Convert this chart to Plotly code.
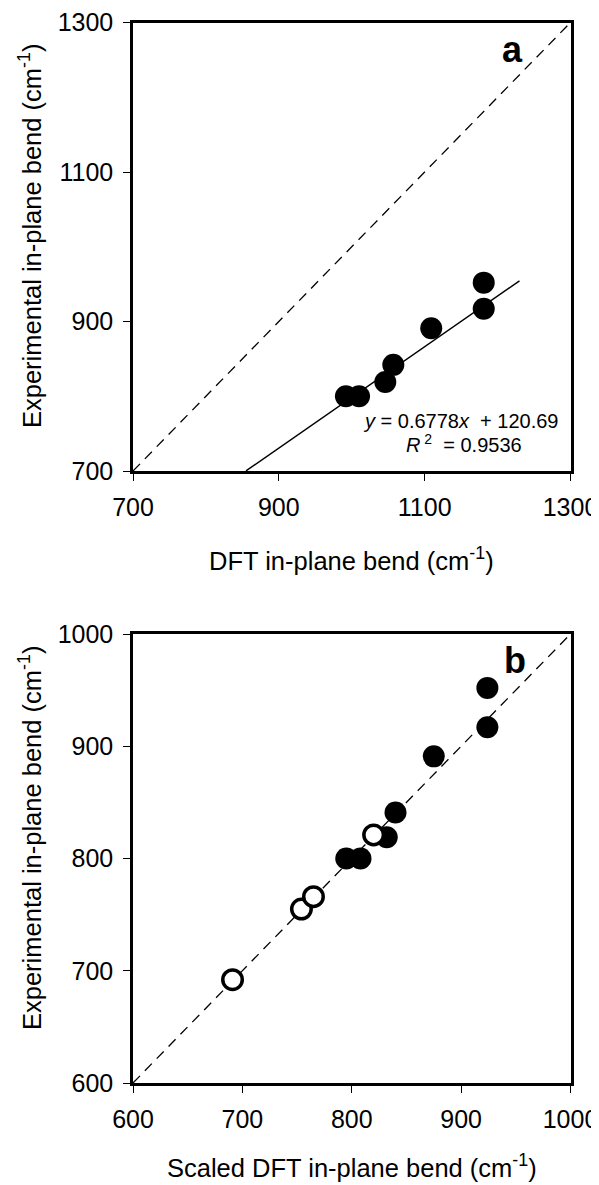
import plotly.graph_objects as go

# ---- data ----
a_dft = [992, 1010, 1046, 1057, 1109, 1181, 1181]
a_exp = [800, 800, 819, 842, 891, 917, 952]

fit_slope = 0.6778
fit_intercept = 120.69
fit_x_ends = [855, 1230]

b_scaled_filled = [795, 808, 832, 840, 875, 924, 924]
b_exp_filled = [800, 800, 819, 841, 891, 917, 952]
b_scaled_open = [691, 754, 765, 820]
b_exp_open = [692, 755, 766, 821]

a_range = [700, 1300]
a_ticks = [700, 900, 1100, 1300]
b_range = [600, 1000]
b_ticks = [600, 700, 800, 900, 1000]

# page has an 8px body margin: the figure is drawn from (8, 8)
OFF = 8
W, H = 599 - OFF, 1185 - OFF
FONT = "Liberation Sans, Arial, Helvetica, sans-serif"


def px(xpage):
    return (xpage - OFF) / W


def py(ypage):
    return 1 - (ypage - OFF) / H


fig = go.Figure()

# Panel a
fig.add_trace(go.Scatter(x=a_range, y=a_range, mode="lines",
                         line=dict(color="black", width=1.3, dash="10px,7px"),
                         xaxis="x", yaxis="y", showlegend=False, hoverinfo="skip"))
fit_y = [fit_slope * v + fit_intercept for v in fit_x_ends]
fig.add_trace(go.Scatter(x=fit_x_ends, y=fit_y, mode="lines",
                         line=dict(color="black", width=1.5),
                         xaxis="x", yaxis="y", showlegend=False))
fig.add_trace(go.Scatter(x=a_dft, y=a_exp, mode="markers",
                         marker=dict(size=22, color="black", line=dict(width=0)),
                         xaxis="x", yaxis="y", showlegend=False))

# Panel b
fig.add_trace(go.Scatter(x=b_range, y=b_range, mode="lines",
                         line=dict(color="black", width=1.3, dash="10px,7px"),
                         xaxis="x2", yaxis="y2", showlegend=False, hoverinfo="skip"))
fig.add_trace(go.Scatter(x=b_scaled_filled, y=b_exp_filled, mode="markers",
                         marker=dict(size=22, color="black", line=dict(width=0)),
                         xaxis="x2", yaxis="y2", showlegend=False))
fig.add_trace(go.Scatter(x=b_scaled_open, y=b_exp_open, mode="markers",
                         marker=dict(size=19.5, color="white",
                                     line=dict(width=3.5, color="black")),
                         xaxis="x2", yaxis="y2", showlegend=False))

axis_common = dict(showgrid=False, zeroline=False, showline=True, linecolor="black",
                   linewidth=2.5, mirror=True, ticks="outside", ticklen=7,
                   tickwidth=1.3, tickcolor="black", automargin=False,
                   ticklabeloverflow="allow",
                   tickfont=dict(family=FONT, size=25, color="black"))

xdom = [px(133), px(570.5)]
fig.update_layout(
    width=W, height=H,
    margin=dict(l=0, r=0, t=0, b=0),
    paper_bgcolor="white", plot_bgcolor="white",
    font=dict(family=FONT, color="black"),
    xaxis=dict(domain=xdom, range=a_range, tickvals=a_ticks, anchor="y",
               ticklabelstandoff=5, **axis_common),
    yaxis=dict(domain=[py(471), py(22.5)], range=a_range, tickvals=a_ticks,
               anchor="x", ticklabelstandoff=5, **axis_common),
    xaxis2=dict(domain=xdom, range=b_range, tickvals=b_ticks, anchor="y2",
                ticklabelstandoff=5, **axis_common),
    yaxis2=dict(domain=[py(1083), py(634)], range=b_range, tickvals=b_ticks,
                anchor="x2", ticklabelstandoff=5, **axis_common),
)


def note(xp, yp, text, size, angle=0):
    return dict(x=px(xp), y=py(yp), xref="paper", yref="paper", showarrow=False,
                xanchor="center", yanchor="middle", textangle=angle, text=text,
                font=dict(family=FONT, size=size, color="black"))


xc = (133 + 570.5) / 2
ann = [
    note(xc, 559, "DFT in-plane bend (cm<sup>-1</sup>)", 25.5),
    note(xc, 1166, "Scaled DFT in-plane bend (cm<sup>-1</sup>)", 25.5),
    note(30, 236, "Experimental in-plane bend (cm<sup>-1</sup>)", 25.5, -90),
    note(30, 838, "Experimental in-plane bend (cm<sup>-1</sup>)", 25.5, -90),
    note(512, 50, "<b>a</b>", 36),
    note(515, 660, "<b>b</b>", 36),
    note(461, 421, "<i>y</i> = 0.6778<i>x</i>  + 120.69", 20),
    note(464, 444, "<i>R</i><sup> 2</sup>  = 0.9536", 20),
]
fig.update_layout(annotations=ann)

fig.write_html("out.html")
